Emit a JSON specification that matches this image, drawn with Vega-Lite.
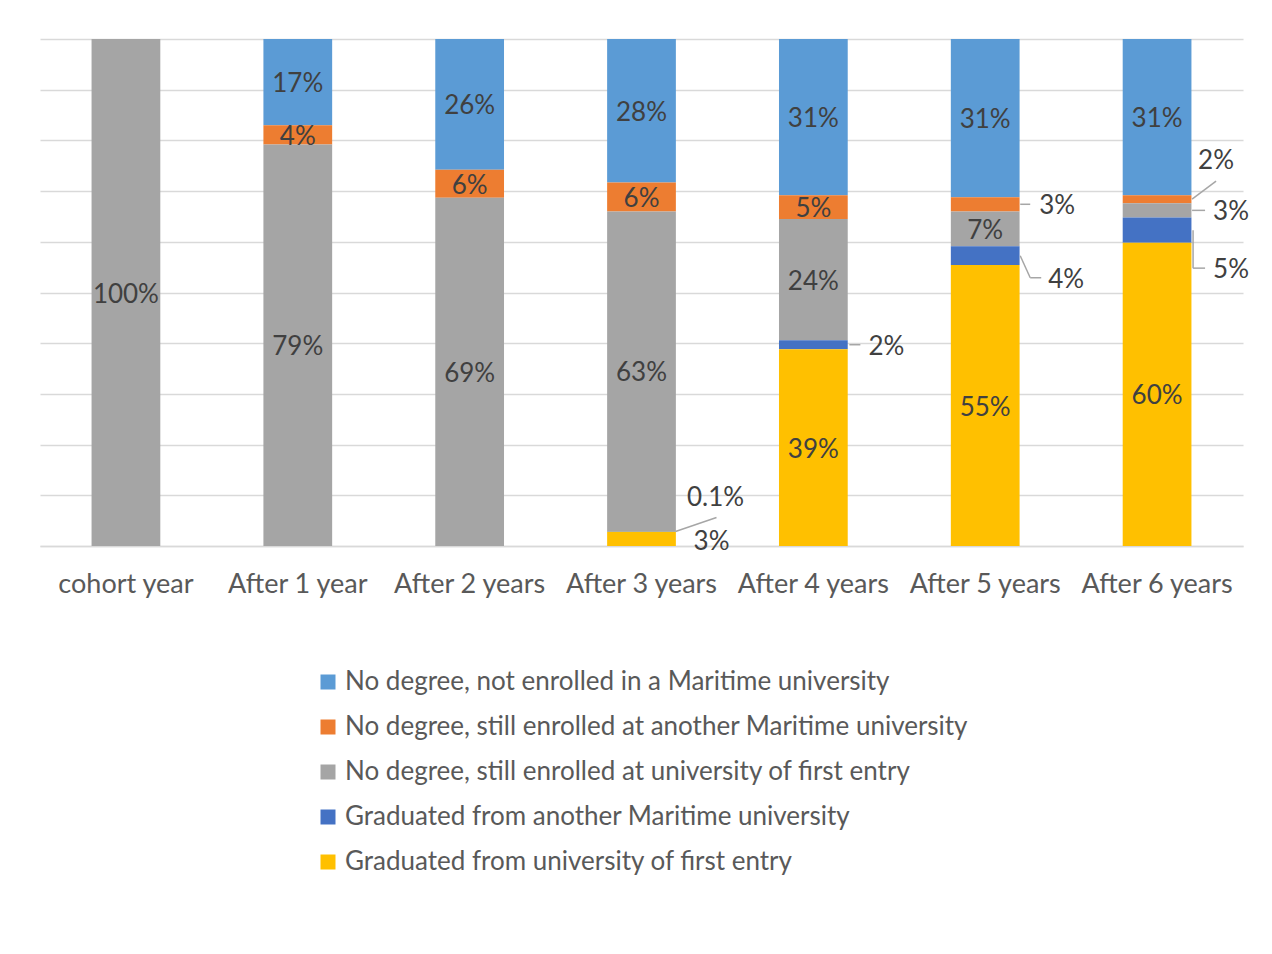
{
  "$schema": "https://vega.github.io/schema/vega-lite/v6.json",
  "width": 1203,
  "height": 507,
  "autosize": {"type": "none"},
  "padding": {"left": 40, "top": 39, "right": 29, "bottom": 408},
  "background": "white",
  "config": {"view": {"stroke": null}, "font": "Lato", "text": {"font": "Lato"}},
  "data": {"values": [
    {"cat": "cohort year", "series": "No degree, still enrolled at university of first entry", "rank": 3, "value": 100, "label": "100%", "pos": "in"},
    {"cat": "After 1 year", "series": "No degree, not enrolled in a Maritime university", "rank": 5, "value": 17.0, "label": "17%", "pos": "in"},
    {"cat": "After 1 year", "series": "No degree, still enrolled at another Maritime university", "rank": 4, "value": 3.8, "label": "4%", "pos": "in"},
    {"cat": "After 1 year", "series": "No degree, still enrolled at university of first entry", "rank": 3, "value": 79.2, "label": "79%", "pos": "in"},
    {"cat": "After 2 years", "series": "No degree, not enrolled in a Maritime university", "rank": 5, "value": 25.8, "label": "26%", "pos": "in"},
    {"cat": "After 2 years", "series": "No degree, still enrolled at another Maritime university", "rank": 4, "value": 5.5, "label": "6%", "pos": "in"},
    {"cat": "After 2 years", "series": "No degree, still enrolled at university of first entry", "rank": 3, "value": 68.7, "label": "69%", "pos": "in"},
    {"cat": "After 3 years", "series": "No degree, not enrolled in a Maritime university", "rank": 5, "value": 28.3, "label": "28%", "pos": "in"},
    {"cat": "After 3 years", "series": "No degree, still enrolled at another Maritime university", "rank": 4, "value": 5.7, "label": "6%", "pos": "in"},
    {"cat": "After 3 years", "series": "No degree, still enrolled at university of first entry", "rank": 3, "value": 63.1, "label": "63%", "pos": "in"},
    {"cat": "After 3 years", "series": "Graduated from another Maritime university", "rank": 2, "value": 0.1, "label": "0.1%", "pos": "out"},
    {"cat": "After 3 years", "series": "Graduated from university of first entry", "rank": 1, "value": 2.8, "label": "3%", "pos": "out"},
    {"cat": "After 4 years", "series": "No degree, not enrolled in a Maritime university", "rank": 5, "value": 30.8, "label": "31%", "pos": "in"},
    {"cat": "After 4 years", "series": "No degree, still enrolled at another Maritime university", "rank": 4, "value": 4.7, "label": "5%", "pos": "in"},
    {"cat": "After 4 years", "series": "No degree, still enrolled at university of first entry", "rank": 3, "value": 23.9, "label": "24%", "pos": "in"},
    {"cat": "After 4 years", "series": "Graduated from another Maritime university", "rank": 2, "value": 1.8, "label": "2%", "pos": "out"},
    {"cat": "After 4 years", "series": "Graduated from university of first entry", "rank": 1, "value": 38.8, "label": "39%", "pos": "in"},
    {"cat": "After 5 years", "series": "No degree, not enrolled in a Maritime university", "rank": 5, "value": 31.2, "label": "31%", "pos": "in"},
    {"cat": "After 5 years", "series": "No degree, still enrolled at another Maritime university", "rank": 4, "value": 2.8, "label": "3%", "pos": "out"},
    {"cat": "After 5 years", "series": "No degree, still enrolled at university of first entry", "rank": 3, "value": 6.9, "label": "7%", "pos": "in"},
    {"cat": "After 5 years", "series": "Graduated from another Maritime university", "rank": 2, "value": 3.7, "label": "4%", "pos": "out"},
    {"cat": "After 5 years", "series": "Graduated from university of first entry", "rank": 1, "value": 55.4, "label": "55%", "pos": "in"},
    {"cat": "After 6 years", "series": "No degree, not enrolled in a Maritime university", "rank": 5, "value": 30.8, "label": "31%", "pos": "in"},
    {"cat": "After 6 years", "series": "No degree, still enrolled at another Maritime university", "rank": 4, "value": 1.6, "label": "2%", "pos": "out"},
    {"cat": "After 6 years", "series": "No degree, still enrolled at university of first entry", "rank": 3, "value": 2.8, "label": "3%", "pos": "out"},
    {"cat": "After 6 years", "series": "Graduated from another Maritime university", "rank": 2, "value": 5.0, "label": "5%", "pos": "out"},
    {"cat": "After 6 years", "series": "Graduated from university of first entry", "rank": 1, "value": 59.8, "label": "60%", "pos": "in"}
  ]},
  "transform": [
    {"stack": "value", "groupby": ["cat"], "sort": [{"field": "rank", "order": "ascending"}], "offset": "normalize", "as": ["v0", "v1"]},
    {"calculate": "(datum.v0 + datum.v1) / 2", "as": "mid"}
  ],
  "encoding": {
    "x": {
      "field": "cat", "type": "nominal",
      "sort": ["cohort year", "After 1 year", "After 2 years", "After 3 years", "After 4 years", "After 5 years", "After 6 years"],
      "scale": {"paddingInner": 0.6, "paddingOuter": 0.3},
      "axis": {"title": null, "labelAngle": 0, "labelFontSize": 27, "labelColor": "#595959", "labelPadding": 25, "ticks": false, "domainColor": "#d9d9d9", "domainWidth": 1.5, "labelFont": "Lato"}
    }
  },
  "layer": [
    {
      "mark": {"type": "bar"},
      "encoding": {
        "y": {"field": "v1", "type": "quantitative", "scale": {"domain": [0, 1]},
          "axis": {"title": null, "labels": false, "ticks": false, "domain": false, "values": [0, 0.1, 0.2, 0.3, 0.4, 0.5, 0.6, 0.7, 0.8, 0.9, 1], "gridColor": "#d9d9d9", "gridWidth": 1.5}},
        "y2": {"field": "v0"},
        "color": {
          "field": "series", "type": "nominal",
          "scale": {
            "domain": ["No degree, not enrolled in a Maritime university", "No degree, still enrolled at another Maritime university", "No degree, still enrolled at university of first entry", "Graduated from another Maritime university", "Graduated from university of first entry"],
            "range": ["#5B9BD5", "#ED7D31", "#A5A5A5", "#4472C4", "#FFC000"]
          },
          "legend": {"title": null, "orient": "none", "legendX": 275, "legendY": 630, "direction": "vertical", "symbolType": "square", "symbolSize": 225, "symbolStrokeWidth": 0, "labelFontSize": 26, "labelColor": "#595959", "labelFont": "Lato", "rowPadding": 19, "labelOffset": 4, "labelLimit": 900, "padding": 0}
        }
      }
    },
    {
      "transform": [{"filter": "datum.pos == 'in'"}],
      "mark": {"type": "text", "fontSize": 26, "color": "#404040", "baseline": "middle", "dy": 2},
      "encoding": {"y": {"field": "mid", "type": "quantitative"}, "text": {"field": "label"}}
    },
    {
      "transform": [{"filter": "datum.cat == 'After 3 years' && datum.rank == 2"}],
      "mark": {"type": "text", "fontSize": 26, "color": "#404040", "baseline": "middle", "dx": 74, "dy": -34},
      "encoding": {"y": {"field": "mid", "type": "quantitative"}, "text": {"field": "label"}}
    },
    {
      "transform": [{"filter": "datum.cat == 'After 3 years' && datum.rank == 2"}],
      "mark": {"type": "rule", "color": "#a6a6a6", "strokeWidth": 1.5, "xOffset": 34, "x2Offset": 75, "y2Offset": -14},
      "encoding": {"x2": {"field": "cat"}, "y": {"field": "mid", "type": "quantitative"}, "y2": {"field": "mid"}}
    },
    {
      "transform": [{"filter": "datum.cat == 'After 3 years' && datum.rank == 1"}],
      "mark": {"type": "text", "fontSize": 26, "color": "#404040", "baseline": "middle", "dx": 70, "dy": 3},
      "encoding": {"y": {"field": "mid", "type": "quantitative"}, "text": {"field": "label"}}
    },
    {
      "transform": [{"filter": "datum.cat == 'After 4 years' && datum.rank == 2"}],
      "mark": {"type": "text", "fontSize": 26, "color": "#404040", "baseline": "middle", "dx": 73, "dy": 2},
      "encoding": {"y": {"field": "mid", "type": "quantitative"}, "text": {"field": "label"}}
    },
    {
      "transform": [{"filter": "datum.cat == 'After 4 years' && datum.rank == 2"}],
      "mark": {"type": "rule", "color": "#a6a6a6", "strokeWidth": 1.5, "xOffset": 36, "x2Offset": 47},
      "encoding": {"x2": {"field": "cat"}, "y": {"field": "mid", "type": "quantitative"}, "y2": {"field": "mid"}}
    },
    {
      "transform": [{"filter": "datum.cat == 'After 5 years' && datum.rank == 4"}],
      "mark": {"type": "text", "fontSize": 26, "color": "#404040", "baseline": "middle", "dx": 72, "dy": 2},
      "encoding": {"y": {"field": "mid", "type": "quantitative"}, "text": {"field": "label"}}
    },
    {
      "transform": [{"filter": "datum.cat == 'After 5 years' && datum.rank == 4"}],
      "mark": {"type": "rule", "color": "#a6a6a6", "strokeWidth": 1.5, "xOffset": 35, "x2Offset": 45},
      "encoding": {"x2": {"field": "cat"}, "y": {"field": "mid", "type": "quantitative"}, "y2": {"field": "mid"}}
    },
    {
      "transform": [{"filter": "datum.cat == 'After 5 years' && datum.rank == 2"}],
      "mark": {"type": "text", "fontSize": 26, "color": "#404040", "baseline": "middle", "dx": 81, "dy": 24},
      "encoding": {"y": {"field": "mid", "type": "quantitative"}, "text": {"field": "label"}}
    },
    {
      "transform": [{"filter": "datum.cat == 'After 5 years' && datum.rank == 2"}],
      "mark": {"type": "rule", "color": "#a6a6a6", "strokeWidth": 1.5, "xOffset": 35, "x2Offset": 45, "y2Offset": 22},
      "encoding": {"x2": {"field": "cat"}, "y": {"field": "mid", "type": "quantitative"}, "y2": {"field": "mid"}}
    },
    {
      "transform": [{"filter": "datum.cat == 'After 5 years' && datum.rank == 2"}],
      "mark": {"type": "rule", "color": "#a6a6a6", "strokeWidth": 1.5, "xOffset": 45, "x2Offset": 56, "yOffset": 22, "y2Offset": 22},
      "encoding": {"x2": {"field": "cat"}, "y": {"field": "mid", "type": "quantitative"}, "y2": {"field": "mid"}}
    },
    {
      "transform": [{"filter": "datum.cat == 'After 6 years' && datum.rank == 4"}],
      "mark": {"type": "text", "fontSize": 26, "color": "#404040", "baseline": "middle", "dx": 59, "dy": -38},
      "encoding": {"y": {"field": "mid", "type": "quantitative"}, "text": {"field": "label"}}
    },
    {
      "transform": [{"filter": "datum.cat == 'After 6 years' && datum.rank == 4"}],
      "mark": {"type": "rule", "color": "#a6a6a6", "strokeWidth": 1.5, "xOffset": 35, "x2Offset": 59, "y2Offset": -18},
      "encoding": {"x2": {"field": "cat"}, "y": {"field": "mid", "type": "quantitative"}, "y2": {"field": "mid"}}
    },
    {
      "transform": [{"filter": "datum.cat == 'After 6 years' && datum.rank == 3"}],
      "mark": {"type": "text", "fontSize": 26, "color": "#404040", "baseline": "middle", "dx": 74, "dy": 2},
      "encoding": {"y": {"field": "mid", "type": "quantitative"}, "text": {"field": "label"}}
    },
    {
      "transform": [{"filter": "datum.cat == 'After 6 years' && datum.rank == 3"}],
      "mark": {"type": "rule", "color": "#a6a6a6", "strokeWidth": 1.5, "xOffset": 35, "x2Offset": 48},
      "encoding": {"x2": {"field": "cat"}, "y": {"field": "mid", "type": "quantitative"}, "y2": {"field": "mid"}}
    },
    {
      "transform": [{"filter": "datum.cat == 'After 6 years' && datum.rank == 2"}],
      "mark": {"type": "text", "fontSize": 26, "color": "#404040", "baseline": "middle", "dx": 74, "dy": 40},
      "encoding": {"y": {"field": "mid", "type": "quantitative"}, "text": {"field": "label"}}
    },
    {
      "transform": [{"filter": "datum.cat == 'After 6 years' && datum.rank == 2"}],
      "mark": {"type": "rule", "color": "#a6a6a6", "strokeWidth": 1.5, "xOffset": 36, "x2Offset": 36, "y2Offset": 38},
      "encoding": {"x2": {"field": "cat"}, "y": {"field": "mid", "type": "quantitative"}, "y2": {"field": "mid"}}
    },
    {
      "transform": [{"filter": "datum.cat == 'After 6 years' && datum.rank == 2"}],
      "mark": {"type": "rule", "color": "#a6a6a6", "strokeWidth": 1.5, "xOffset": 36, "x2Offset": 48, "yOffset": 38, "y2Offset": 38},
      "encoding": {"x2": {"field": "cat"}, "y": {"field": "mid", "type": "quantitative"}, "y2": {"field": "mid"}}
    }
  ]
}
